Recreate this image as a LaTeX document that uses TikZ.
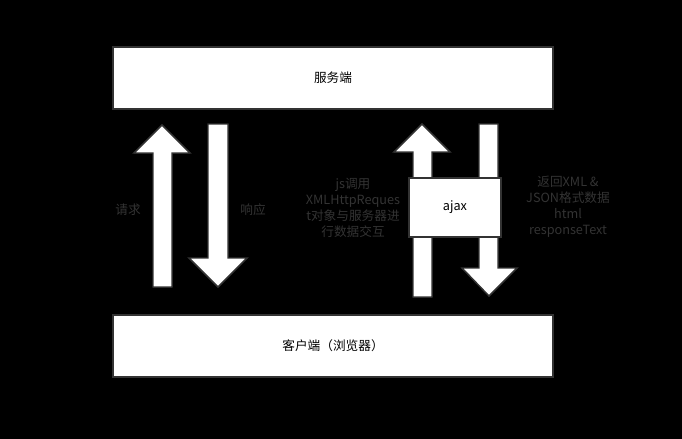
\documentclass[tikz,border=0pt]{standalone}
\usepackage{fontspec}
\setmainfont{Noto Sans CJK SC}
\usetikzlibrary{positioning}
\definecolor{edge}{HTML}{333333}
\definecolor{note}{HTML}{333333}
\tikzset{box/.style={draw=edge,line width=1.1pt,fill=white,inner sep=0pt},
fat/.style={draw=edge,line width=1.1pt,fill=white,line join=miter},
lbl/.style={text=note,font=\fontsize{9.5}{12}\selectfont,align=center}}

\begin{document}
\begin{tikzpicture}[x=0.75pt,y=-0.75pt]
\fill[black] (0,0) rectangle (682,439);
\useasboundingbox (0,0) rectangle (682,439);
\node[box,minimum width=440*0.75pt,minimum height=62*0.75pt] (server) at (333,78) {\fontsize{9.5}{12}\selectfont 服务端};
\node[box,minimum width=440*0.75pt,minimum height=62*0.75pt] (client) at (333,346) {\fontsize{9.5}{12}\selectfont 客户端（浏览器）};
% request / response
\draw[fat] (153,287) -- (153,153) -- (134,153) -- (162,125) -- (190,153) -- (172,153) -- (172,287) -- cycle;
\draw[fat] (208,124) -- (208,258) -- (189,258) -- (218,287) -- (247,258) -- (228,258) -- (228,124) -- cycle;
\node[lbl] (req) at (128,210) {请求};
\node[lbl] (resp) at (253,210) {响应};
% ajax
\draw[fat] (413,297) -- (413,152) -- (394,152) -- (422,124) -- (450,152) -- (432,152) -- (432,297) -- cycle;
\draw[fat] (479,124) -- (479,268) -- (462,268) -- (489,296) -- (517,268) -- (498,268) -- (498,124) -- cycle;
\node[box,minimum width=92*0.75pt,minimum height=59*0.75pt] (ajax) at (455,207.5) {\fontsize{9.5}{12}\selectfont ajax};
\node[lbl] (send) at (353,208) {js调用\\XMLHttpReques\\t对象与服务器进\\行数据交互};
\node[lbl] (back) at (568,207) {返回XML \&\\JSON格式数据\\html\\responseText};
\end{tikzpicture}
\end{document}
